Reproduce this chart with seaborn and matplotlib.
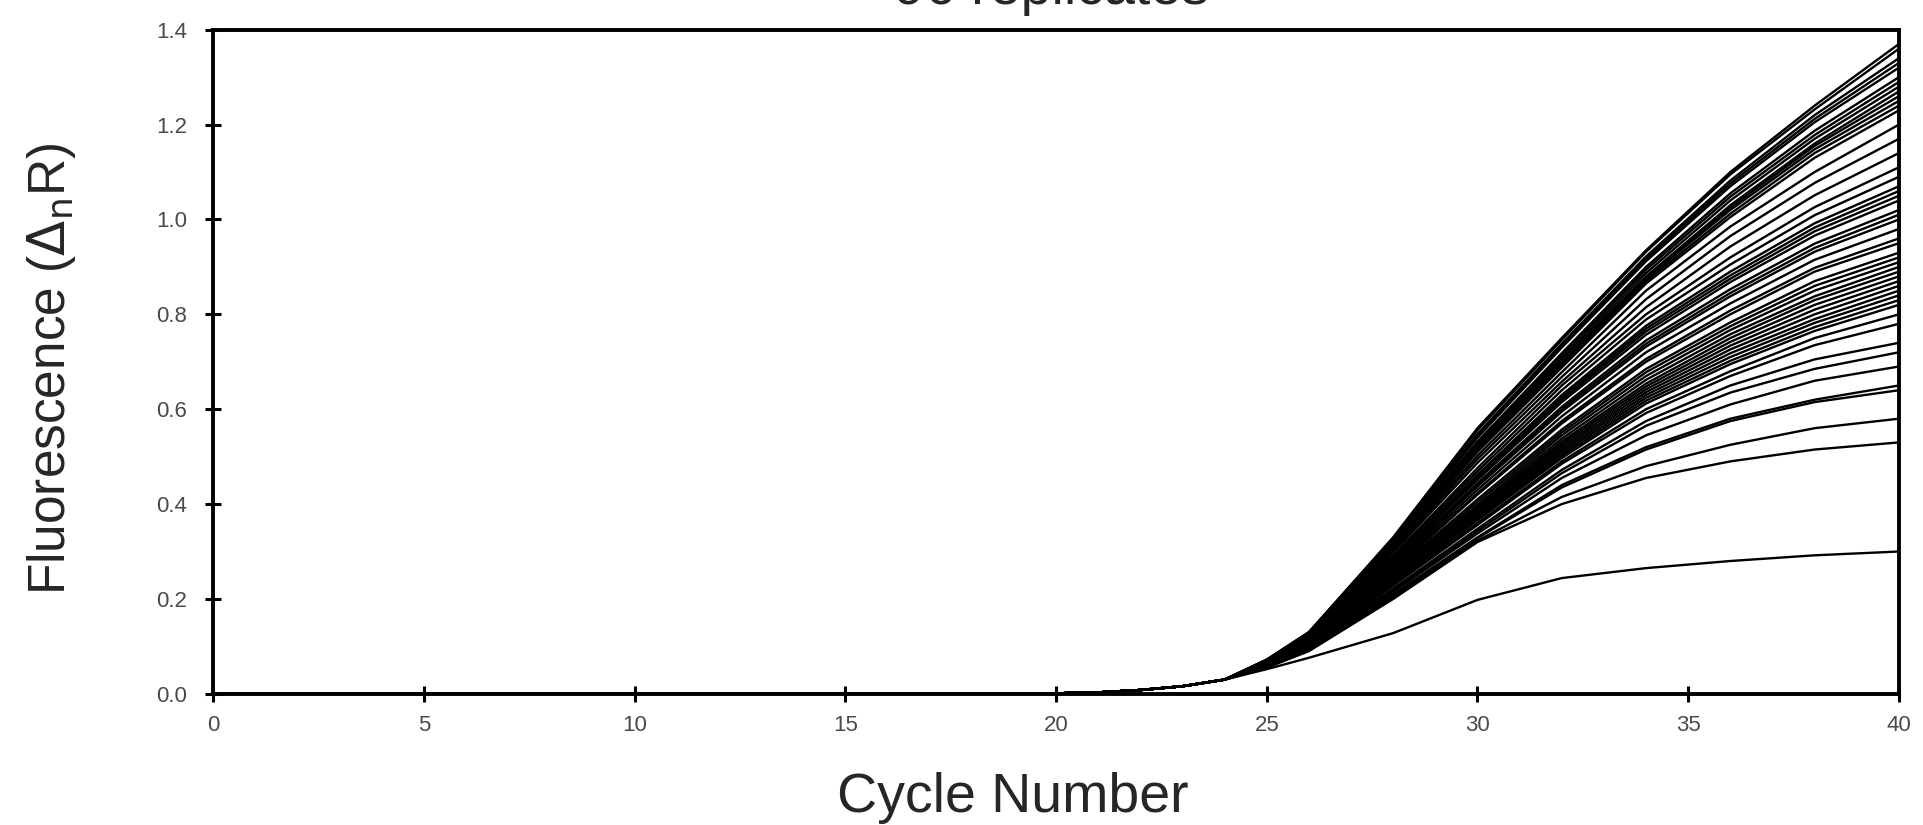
import matplotlib
matplotlib.use("Agg")
import matplotlib.pyplot as plt
import seaborn as sns
import pandas as pd

# cycles where all replicates still sit on the baseline (shared readings)
early_cycles = [0, 20, 21, 22, 23, 24]
early_values = [0.0, 0.001, 0.003, 0.008, 0.016, 0.030]

# cycles read per replicate
late_cycles = [25, 26, 28, 30, 32, 34, 36, 38, 40]

# fluorescence, one list per replicate
replicates = [
    [.052, .076, .128, .198, .244, .265, .280, .292, .300],
    [.055, .090, .200, .320, .400, .455, .490, .515, .530],
    [.056, .092, .203, .323, .415, .480, .525, .560, .580],
    [.057, .094, .207, .328, .435, .515, .575, .615, .640],
    [.057, .095, .210, .330, .440, .520, .580, .620, .650],
    [.058, .096, .215, .338, .455, .545, .610, .660, .690],
    [.058, .097, .218, .343, .465, .565, .635, .685, .720],
    [.059, .098, .222, .348, .472, .575, .650, .705, .740],
    [.060, .100, .228, .356, .485, .592, .670, .735, .780],
    [.060, .100, .230, .360, .490, .600, .680, .750, .800],
    [.060, .101, .233, .366, .497, .612, .695, .765, .820],
    [.061, .102, .235, .369, .502, .618, .702, .773, .830],
    [.061, .102, .238, .372, .507, .624, .710, .782, .840],
    [.061, .103, .240, .375, .512, .630, .718, .790, .850],
    [.061, .104, .242, .379, .517, .636, .726, .800, .860],
    [.062, .105, .245, .383, .522, .642, .734, .810, .870],
    [.062, .106, .247, .386, .527, .648, .742, .820, .880],
    [.062, .107, .250, .390, .532, .654, .750, .830, .890],
    [.062, .107, .252, .394, .538, .662, .758, .838, .900],
    [.062, .108, .254, .398, .545, .670, .767, .850, .910],
    [.063, .108, .256, .404, .551, .678, .775, .860, .920],
    [.063, .109, .257, .410, .557, .685, .783, .870, .930],
    [.063, .110, .260, .420, .570, .700, .800, .890, .950],
    [.063, .111, .262, .423, .575, .706, .808, .898, .960],
    [.064, .112, .266, .430, .585, .720, .823, .915, .980],
    [.064, .113, .270, .437, .595, .732, .838, .932, 1.000],
    [.064, .113, .272, .440, .600, .738, .845, .940, 1.010],
    [.065, .114, .274, .444, .605, .745, .853, .949, 1.020],
    [.065, .115, .278, .451, .615, .757, .868, .966, 1.040],
    [.066, .116, .280, .455, .620, .764, .875, .975, 1.050],
    [.066, .116, .282, .458, .625, .770, .882, .983, 1.060],
    [.066, .117, .284, .462, .630, .776, .890, .992, 1.070],
    [.067, .118, .288, .469, .640, .789, .905, 1.009, 1.090],
    [.067, .119, .292, .476, .650, .800, .920, 1.026, 1.110],
    [.068, .120, .298, .487, .658, .815, .943, 1.051, 1.140],
    [.068, .121, .302, .495, .668, .832, .965, 1.077, 1.170],
    [.069, .122, .305, .502, .678, .850, .985, 1.100, 1.200],
    [.069, .123, .308, .510, .688, .865, 1.005, 1.130, 1.230],
    [.069, .124, .310, .512, .692, .870, 1.012, 1.140, 1.240],
    [.070, .124, .312, .515, .695, .875, 1.020, 1.148, 1.250],
    [.070, .125, .314, .518, .698, .878, 1.025, 1.155, 1.260],
    [.070, .125, .315, .520, .700, .880, 1.030, 1.160, 1.270],
    [.070, .126, .317, .524, .706, .887, 1.040, 1.170, 1.280],
    [.070, .126, .318, .528, .712, .894, 1.048, 1.178, 1.290],
    [.071, .127, .320, .532, .718, .900, 1.055, 1.187, 1.300],
    [.071, .128, .323, .540, .730, .912, 1.070, 1.205, 1.320],
    [.071, .128, .324, .544, .734, .917, 1.076, 1.212, 1.330],
    [.072, .129, .326, .548, .738, .922, 1.082, 1.220, 1.340],
    [.072, .130, .328, .556, .746, .932, 1.095, 1.232, 1.360],
    [.072, .130, .330, .560, .750, .935, 1.100, 1.240, 1.370],
]

x_ticks = [0, 5, 10, 15, 20, 25, 30, 35, 40]
y_ticks = [0.0, 0.2, 0.4, 0.6, 0.8, 1.0, 1.2, 1.4]

# long table for seaborn
rows = []
for i, vals in enumerate(replicates):
    for c, v in zip(early_cycles + late_cycles, early_values + vals):
        rows.append({"rep": i, "cycle": c, "fluor": v})
df = pd.DataFrame(rows)

sns.set_style("ticks")
plt.rcParams["font.family"] = ["Liberation Sans", "DejaVu Sans"]

fig = plt.figure(figsize=(19.23, 8.25), dpi=100)
ax = fig.add_axes([0.1108, 0.159, 0.8767, 0.805])

sns.lineplot(data=df, x="cycle", y="fluor", units="rep", estimator=None,
             color="black", linewidth=1.7, ax=ax, legend=False)

ax.set_xlim(0, 40)
ax.set_ylim(0, 1.4)
ax.set_xticks(x_ticks)
ax.set_yticks(y_ticks)
ax.set_yticklabels([f"{t:.1f}" for t in y_ticks])
ax.tick_params(direction="inout", length=11, width=2.2, colors="black",
               labelcolor="#4a4a4a", labelsize=16)
ax.tick_params(axis="y", pad=13)
ax.tick_params(axis="x", pad=10)
for s in ax.spines.values():
    s.set_linewidth(2.8)
    s.set_color("black")

ax.set_xlabel("Cycle Number", fontsize=40)
ax.xaxis.label.set_va("baseline")
ax.xaxis.set_label_coords(0.4745, -0.1776)

ax.set_ylabel(r"Fluorescence ($\Delta_\mathrm{n}$R)", fontsize=37)
ax.yaxis.label.set_va("baseline")
ax.yaxis.set_label_coords(-0.088, 0.49)

# title sits mostly above the page, as in the original scan
fig.text(0.5466, 1 - 4 / 825, "96 replicates", ha="center", va="baseline",
         fontsize=40)

fig.savefig("out.png", dpi=100)
